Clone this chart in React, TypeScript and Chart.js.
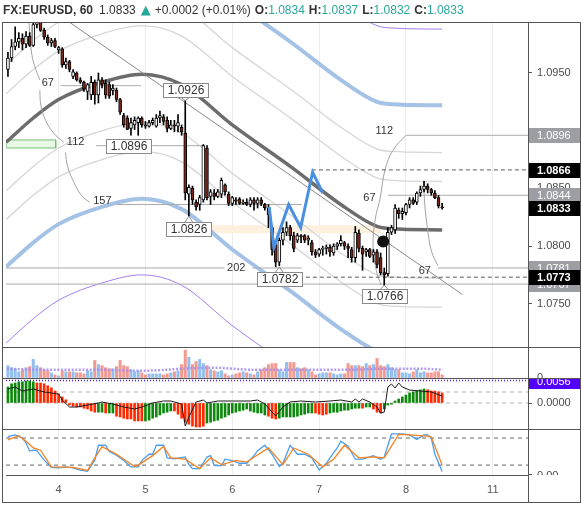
import React, { useEffect, useRef } from "react";
import { Chart, registerables } from "chart.js";

Chart.register(...registerables);

const FONT = '"Liberation Sans", Arial, sans-serif';

// ---------------- data ----------------
const dayTickBars = [14, 38, 62, 86, 110, 134];
const dayTickLabels = ["4", "5", "6", "7", "8", "11"];
const priceTicks = [1.075, 1.08, 1.085, 1.095];

const opens = [
  1.0953, 1.0963, 1.0973, 1.0977, 1.098, 1.0975, 1.0982, 1.0974, 1.0992, 1.0994,
  1.0987, 1.0981, 1.0976, 1.0978, 1.097, 1.0971, 1.0957, 1.096, 1.0947, 1.095,
  1.0944, 1.0942, 1.0934, 1.0931, 1.0942, 1.0931, 1.0944, 1.0941, 1.094, 1.0935,
  1.0935, 1.0927, 1.0913, 1.0911, 1.0902, 1.0905, 1.0907, 1.0911, 1.0905, 1.0904,
  1.0907, 1.0904, 1.0911, 1.0912, 1.0909, 1.0902, 1.0905, 1.0904, 1.0903, 1.0898,
  1.0845, 1.085, 1.0838, 1.0836, 1.084, 1.0885, 1.0843, 1.0846, 1.0843, 1.0845,
  1.0853, 1.0845, 1.0837, 1.084, 1.0841, 1.0837, 1.0838, 1.0836, 1.084, 1.0837,
  1.084, 1.0836, 1.0833, 1.0816, 1.0801, 1.0786, 1.0805, 1.0812, 1.0816, 1.0809,
  1.0805, 1.0809, 1.0809, 1.0805, 1.0803, 1.0795, 1.0793, 1.0797, 1.0798, 1.0799,
  1.0794, 1.08, 1.0802, 1.0803, 1.08, 1.0797, 1.079, 1.0811, 1.0798, 1.0795,
  1.0797, 1.0792, 1.0795, 1.079, 1.0777, 1.0776, 1.0812, 1.0814, 1.0831, 1.0828,
  1.0829, 1.0836, 1.084, 1.0838, 1.0846, 1.0849, 1.0852, 1.0849, 1.0846, 1.0842,
  1.0834,
];
const highs = [
  1.0968, 1.0979, 1.099, 1.0985, 1.0984, 1.0986, 1.0985, 1.0996, 1.0998, 1.0998,
  1.0989, 1.0983, 1.098, 1.098, 1.0973, 1.0972, 1.0963, 1.0961, 1.0953, 1.0951,
  1.0946, 1.0943, 1.0941, 1.0947, 1.0944, 1.095, 1.0946, 1.0944, 1.0942, 1.094,
  1.0937, 1.0928, 1.0915, 1.0913, 1.0911, 1.0912, 1.0912, 1.0912, 1.0908, 1.0909,
  1.0911, 1.0914, 1.0917, 1.0914, 1.0912, 1.0909, 1.0909, 1.0914, 1.0905, 1.0926,
  1.0853, 1.0852, 1.084, 1.0844, 1.0888, 1.0887, 1.0849, 1.0849, 1.0849, 1.0859,
  1.0854, 1.0847, 1.0843, 1.0842, 1.0842, 1.084, 1.0841, 1.0842, 1.0842, 1.0842,
  1.0842, 1.0837, 1.0836, 1.0817, 1.0805, 1.0807, 1.0816, 1.0821, 1.0818, 1.0812,
  1.0811, 1.081, 1.081, 1.0809, 1.0805, 1.0797, 1.0798, 1.08, 1.0801, 1.0801,
  1.0802, 1.0803, 1.0809, 1.0804, 1.0802, 1.0799, 1.0817, 1.0814, 1.08, 1.0798,
  1.0798, 1.0797, 1.0797, 1.0794, 1.0781, 1.0816, 1.0818, 1.0836, 1.0833, 1.0833,
  1.0837, 1.0842, 1.0842, 1.0847, 1.0852, 1.0856, 1.0854, 1.085, 1.0848, 1.0844,
  1.0837,
];
const lows = [
  1.0947, 1.096, 1.097, 1.0972, 1.097, 1.0972, 1.0973, 1.0973, 1.0989, 1.0986,
  1.0979, 1.0974, 1.0973, 1.0972, 1.0967, 1.0955, 1.0954, 1.0951, 1.0945, 1.0943,
  1.0941, 1.0934, 1.0927, 1.0927, 1.0923, 1.0924, 1.0937, 1.0928, 1.0928, 1.0931,
  1.0925, 1.0914, 1.0903, 1.0901, 1.0896, 1.0901, 1.0896, 1.0903, 1.0902, 1.0903,
  1.0905, 1.0903, 1.0907, 1.0905, 1.0899, 1.0901, 1.0899, 1.0899, 1.0896, 1.084,
  1.0826, 1.0836, 1.0831, 1.0831, 1.0838, 1.084, 1.0836, 1.084, 1.0842, 1.0842,
  1.0844, 1.0835, 1.0835, 1.0836, 1.0836, 1.0836, 1.0835, 1.0834, 1.0831, 1.0833,
  1.0835, 1.0831, 1.0816, 1.0792, 1.0782, 1.0783, 1.0801, 1.0809, 1.0805, 1.0795,
  1.0803, 1.0803, 1.0803, 1.0801, 1.0792, 1.079, 1.0791, 1.0792, 1.0793, 1.0791,
  1.0792, 1.0797, 1.08, 1.0797, 1.079, 1.0786, 1.0786, 1.0795, 1.0779, 1.0791,
  1.079, 1.0786, 1.0781, 1.0775, 1.0766, 1.0774, 1.081, 1.0811, 1.0824, 1.0823,
  1.0827, 1.0833, 1.0836, 1.0836, 1.0843, 1.0847, 1.0846, 1.0844, 1.0841, 1.0833,
  1.0832,
];
const closes = [
  1.0963, 1.0973, 1.0977, 1.098, 1.0975, 1.0982, 1.0974, 1.0992, 1.0994, 1.0987,
  1.0981, 1.0976, 1.0978, 1.0973, 1.0972, 1.0957, 1.096, 1.0953, 1.0951, 1.0944,
  1.0942, 1.0936, 1.094, 1.0942, 1.0931, 1.0944, 1.094, 1.0931, 1.093, 1.0937,
  1.0927, 1.0916, 1.0905, 1.0901, 1.0907, 1.0909, 1.0911, 1.0905, 1.0904, 1.0907,
  1.0909, 1.0911, 1.0913, 1.0908, 1.0902, 1.0905, 1.0904, 1.0907, 1.0899, 1.0846,
  1.0851, 1.084, 1.0834, 1.0842, 1.0887, 1.0842, 1.0847, 1.0843, 1.0847, 1.0857,
  1.0847, 1.0837, 1.0842, 1.0839, 1.0837, 1.0838, 1.0836, 1.084, 1.0837, 1.084,
  1.0837, 1.0833, 1.0827, 1.0797, 1.0786, 1.0805, 1.0812, 1.0816, 1.0809, 1.0798,
  1.0809, 1.0808, 1.0805, 1.0807, 1.0795, 1.0792, 1.0797, 1.0798, 1.0799, 1.0795,
  1.08, 1.0802, 1.0805, 1.08, 1.0798, 1.079, 1.0812, 1.0798, 1.0793, 1.0797,
  1.0791, 1.0795, 1.0784, 1.0777, 1.0775, 1.0812, 1.0816, 1.0833, 1.0828, 1.083,
  1.0836, 1.084, 1.0837, 1.0846, 1.0849, 1.0852, 1.0849, 1.0846, 1.0842, 1.0835,
  1.0833,
];
const volumes = [
  12, 10, 9, 6, 8, 10, 11, 18, 12, 10,
  8, 7, 5, 3, 2, 7, 6, 6, 6, 5,
  5, 4, 7, 6, 17, 13, 12, 10, 9, 9,
  11, 17, 12, 11, 8, 6, 7, 5, 3, 4,
  4, 4, 4, 3, 4, 5, 6, 7, 13, 27,
  20, 13, 16, 18, 14, 12, 8, 7, 6, 7,
  4, 2, 3, 4, 5, 6, 5, 4, 3, 6,
  8, 10, 13, 14, 14, 8, 6, 15, 15,
  15, 10, 9, 10, 8, 6, 3, 4, 5, 5,
  5, 4, 3, 4, 4, 14, 12, 12, 12, 11,
  14, 12, 13, 19, 12, 11, 13, 10, 8, 8,
  5, 5, 4, 6, 8, 5, 6, 5, 5, 6,
  6, 3,
];
const volMaBars = [-0.3, 9.9, 23.6, 37.3, 48.3, 56.5, 67.5, 81.2, 94.9, 103.1, 114.1, 120.1];
const volMaValues = [9, 8, 8, 7, 9, 10, 8, 8, 8, 9, 9, 8];

// multi-band overlay (moving average and its bands)
const bandBars = [-0.5, 7, 14, 26, 37, 48, 62, 78.5, 92, 102, 106, 120];
const maValues = [1.089, 1.0911, 1.0927, 1.0942, 1.0949, 1.094, 1.0905, 1.0868, 1.0836, 1.0817, 1.0815, 1.0814];
const grayUp1 = [1.0932, 1.0953, 1.0969, 1.0984, 1.0991, 1.0982, 1.0947, 1.091, 1.0878, 1.0859, 1.0857, 1.0856];
const grayDn1 = [1.0848, 1.0869, 1.0885, 1.09, 1.0907, 1.0898, 1.0863, 1.0826, 1.0794, 1.0775, 1.0773, 1.0772];
const grayUp2 = [1.0957, 1.0978, 1.0994, 1.1009, 1.1016, 1.1007, 1.0972, 1.0935, 1.0903, 1.0884, 1.0882, 1.0881];
const grayDn2 = [1.0823, 1.0844, 1.086, 1.0875, 1.0882, 1.0873, 1.0838, 1.0801, 1.0769, 1.075, 1.0748, 1.0747];
const blueUp = [1.0998, 1.1019, 1.1035, 1.105, 1.1057, 1.1048, 1.1013, 1.0976, 1.0944, 1.0925, 1.0923, 1.0922];
const blueDn = [1.0782, 1.0803, 1.0819, 1.0834, 1.0841, 1.0832, 1.0797, 1.076, 1.0728, 1.0709, 1.0707, 1.0706];
const purpleUp = [1.1064, 1.1085, 1.1101, 1.1116, 1.1123, 1.1114, 1.1079, 1.1042, 1.101, 1.0991, 1.0989, 1.0988];
const purpleDn = [1.0716, 1.0737, 1.0753, 1.0768, 1.0775, 1.0766, 1.0731, 1.0694, 1.0662, 1.0643, 1.0641, 1.064];

// drawings
const levelPrices = [1.0939, 1.0887, 1.0836, 1.0781, 1.0781, 1.0781, 1.0767, 1.0896, 1.0844, 1.0866, 1.0773];
const levelFrom = [14.5, 24.4, 30.2, -0.6, 67.5, 118.8, -0.6, 110, 105, 84, 80.4];
const levelTo = [36.8, 53.8, 81.2, 59.8, 81.2, 143.8, 143.8, 143.8, 143.8, 143.8, 143.8];
const levelDashed = [false, false, false, false, false, false, false, false, false, true, true];

const levelLabelTexts = ["67", "112", "157", "202", "112", "67", "67"];
const levelLabelBars = [11.0, 18.7, 26.1, 63.1, 104.0, 99.9, 115.2];
const levelLabelPrices = [1.0941, 1.089, 1.0839, 1.0781, 1.09, 1.0842, 1.0778];

const pivotTexts = ["1.0926", "1.0896", "1.0826", "1.0782", "1.0766"];
const pivotBars = [49, 33.2, 50, 75, 104];
const pivotPrices = [1.0926, 1.0887, 1.0826, 1.0782, 1.0766];

const axisLabelPrices = [1.0896, 1.0844, 1.0781, 1.0767, 1.0866, 1.0833, 1.0773];
const axisLabelDark = [false, false, false, false, true, true, true];

const arcBars = [
  [5.8, 6.6, 7.7, 8.8],
  [8.8, 9.1, 10.4, 12.6, 15.4],
  [15.9, 16.5, 18.1, 20.3, 22.5],
  [110.0, 106.4, 104.2, 102.9, 101.5, 100.9, 101.8, 103.1],
  [114.9, 115.2, 116.0, 117.1, 118.8],
];
const arcPrices = [
  [1.0994, 1.0966, 1.0953, 1.0944],
  [1.0935, 1.0922, 1.0909, 1.0898, 1.089],
  [1.0881, 1.0869, 1.0856, 1.0844, 1.0838],
  [1.0896, 1.0883, 1.0866, 1.0842, 1.0823, 1.0799, 1.0779, 1.0766],
  [1.0856, 1.0836, 1.0814, 1.0795, 1.0783],
];
const trendBars = [17.0, 125.6];
const trendPrices = [1.0994, 1.0758];
const zigBars = [72.2, 73.5, 77.6, 80.9, 84.2, 87.0];
const zigPrices = [1.0834, 1.0799, 1.0836, 1.0816, 1.0864, 1.0846];
const greenRectBars = [-0.5, 13.2];
const greenRectPrices = [1.0885, 1.0892];
const zoneBars = [50, 103.1];
const zonePrices = [1.0811, 1.0818];
const dotBars = [103.7];
const dotPrices = [1.0804];

// MACD pane
const macdHist = [
  0.004, 0.0048, 0.005, 0.0053, 0.0053, 0.0055, 0.0055, 0.0053,
  0.005, 0.005, 0.0048, 0.0043, 0.0038, 0.003, 0.0023, 0.0015, 0.0008,
  -0.0005, -0.0008, -0.001, -0.001, -0.0013, -0.0015, -0.002, -0.0023,
  -0.0023, -0.0023,
  -0.0025,
  -0.0025, -0.0025,
  -0.0033, -0.0035, -0.0038, -0.004, -0.004, -0.0045, -0.0045, -0.0045,
  -0.0045, -0.0043, -0.0038, -0.0035, -0.003, -0.0025, -0.0023, -0.002,
  -0.002, -0.0028, -0.0038, -0.0048, -0.0053, -0.0058, -0.006, -0.006, -0.0058,
  -0.005, -0.0048, -0.0045, -0.0043, -0.0038, -0.0035, -0.003, -0.0025, -0.0023, -0.002, -0.0018, -0.0015, -0.002, -0.0023, -0.0025, -0.0025, -0.003,
  -0.0033, -0.0038, -0.004, -0.0038, -0.0035, -0.0035, -0.0035,
  -0.0035, -0.0033, -0.003, -0.0028, -0.0025, -0.0025,
  -0.0025, -0.0028, -0.003, -0.0028,
  -0.0025, -0.0023, -0.0023, -0.002, -0.0018, -0.0018, -0.0015, -0.0013, -0.0013,
  -0.0013,
  -0.001, -0.001,
  -0.0015, -0.0023, -0.0025,
  -0.0015, -0.0005, -0.0003,
  0.0005, 0.001, 0.0015, 0.002, 0.0025, 0.0028, 0.003, 0.0033, 0.0035,
  0.0033, 0.003, 0.003, 0.0028, 0.0025,
];
const macdColorCodes = [
  "gggggggg", "rrrrrrrrrrrrrrrrr", "gg", "r", "gg", "rrrrrrrr", "gggggggg", "rrrrrrrrr",
  "ggggggggggggggggg", "rrr", "gggggggggg", "rrrr", "ggggggggg", "r", "gg", "rrr", "gggggggggggg", "rrrrr",
].join("");
const macdLineBars = [0, 2, 4, 7, 10, 14, 15, 17, 19, 22, 25, 26, 29, 32, 35, 37, 40, 43, 45, 48, 49, 50, 52, 54, 55, 58, 62, 67, 69, 71, 73, 74, 76, 78, 81, 85, 89, 92, 95, 96, 97, 98, 100, 102, 103, 104, 105, 106, 107, 108, 109, 111, 114, 117, 120];
const macdLineValues = [0.0035, 0.004, 0.003, 0.0035, 0.00275, 0.00225, 0.00075, -0.001, -0.001, -0.0005, 0, 0.00025, -0.00025, -0.001, -0.0015, -0.001, 0, 0.0005, 0.0005, -0.00025, -0.00575, -0.0035, 0.00025, 0.00075, 0, 0.0005, 0.0005, 0.0005, 0.00075, -0.00025, -0.00225, -0.00325, -0.001, 0.00025, 0.0005, 0.00025, 0.0005, 0.00075, 0.00025, 0.001, 0.00025, 0.001, 0.00025, -0.001, -0.0025, -0.00225, 0.004, 0.00475, 0.00375, 0.005, 0.004, 0.00325, 0.003, 0.00275, 0.00175];
const macdLevels = [0.00275, 0];
const macdTopValue = 0.0056;

// Stochastic pane
const kBars = [0, 2, 4, 5, 6, 7, 8, 10, 12, 14, 16, 18, 20, 22, 24, 25, 27, 28, 30, 32, 34, 36, 37, 39, 40, 41, 43, 44, 46, 49, 50, 51, 53, 55, 56, 57, 59, 60, 62, 64, 66, 68, 69, 71, 73, 75, 76, 78, 80, 82, 84, 86, 88, 89, 91, 92, 94, 96, 98, 100, 101, 103, 104, 106, 108, 109, 111, 113, 115, 116, 117, 118, 120];
const kValues = [83, 87, 80, 69, 51, 53, 52, 31, 15, 14, 16, 14, 9, 6, 31, 64, 64, 50, 42, 30, 16, 16, 30, 44, 44, 64, 64, 36, 34, 38, 21, 12, 12, 38, 41, 19, 19, 33, 30, 24, 24, 41, 52, 64, 44, 17, 24, 64, 44, 44, 36, 9, 24, 36, 58, 73, 62, 33, 33, 38, 41, 33, 38, 89, 89, 89, 87, 77, 87, 87, 80, 44, 6];
const dBars = [0, 3, 5, 7, 9, 12, 18, 22, 24, 26, 30, 35, 36, 40, 43, 45, 49, 53, 56, 59, 63, 66, 72, 76, 79, 83, 87, 90, 93, 97, 101, 104, 108, 111, 116, 117, 120];
const dValues = [76, 85, 73, 58, 53, 16, 15, 8, 36, 61, 44, 17, 20, 41, 61, 36, 33, 12, 36, 21, 30, 27, 58, 21, 58, 44, 16, 33, 64, 36, 38, 36, 88, 87, 84, 82, 20];
const stochLevels = [80, 20];

// ---------------- layout / style ----------------
const X_MIN = -0.54;
const X_MAX = 143.73;
const PIVOT_OFFSETS = [-11, 0, 13, 12, 11];

const pts = (xs: number[], ys: number[]) => xs.map((x, k) => ({ x, y: ys[k] }));
const hline = (v: number, axis: string, color: string, dash: number[], width: number, order: number) => ({
  type: "line",
  data: [{ x: X_MIN, y: v }, { x: X_MAX, y: v }],
  borderColor: color,
  borderDash: dash,
  borderWidth: width,
  pointRadius: 0,
  yAxisID: axis,
  order,
});
const curve = (xs: number[], ys: number[], color: string, width: number, order: number, extra: any = {}) => ({
  type: "line",
  data: pts(xs, ys),
  borderColor: color,
  borderWidth: width,
  pointRadius: 0,
  fill: false,
  yAxisID: "y",
  order,
  ...extra,
});

function buildConfig() {
  const idx = opens.map((_, i) => i);
  const up = (i: number) => closes[i] >= opens[i];
  const datasets: any[] = [];

  // zones
  datasets.push({
    type: "line",
    data: pts([zoneBars[0], zoneBars[1], zoneBars[1], zoneBars[0], zoneBars[0]], [zonePrices[1], zonePrices[1], zonePrices[0], zonePrices[0], zonePrices[1]]),
    borderWidth: 0, pointRadius: 0, fill: "shape", backgroundColor: "#fdf0de", borderColor: "rgba(0,0,0,0)", yAxisID: "y", order: 30,
  });
  datasets.push({
    type: "line",
    data: pts([greenRectBars[0], greenRectBars[1], greenRectBars[1], greenRectBars[0], greenRectBars[0]], [greenRectPrices[1], greenRectPrices[1], greenRectPrices[0], greenRectPrices[0], greenRectPrices[1]]),
    borderWidth: 1, pointRadius: 0, fill: "shape", backgroundColor: "#e8f7e6", borderColor: "#76c076", yAxisID: "y", order: 30,
  });

  // bands
  const smooth = { cubicInterpolationMode: "monotone" };
  datasets.push(curve(bandBars, grayUp1, "#d6d6d6", 1.3, 22, smooth));
  datasets.push(curve(bandBars, grayDn1, "#d6d6d6", 1.3, 22, smooth));
  datasets.push(curve(bandBars, grayUp2, "#d6d6d6", 1.3, 22, smooth));
  datasets.push(curve(bandBars, grayDn2, "#d6d6d6", 1.3, 22, smooth));
  datasets.push(curve(bandBars, blueUp, "#a3c2e6", 4, 21, smooth));
  datasets.push(curve(bandBars, blueDn, "#a3c2e6", 4, 21, smooth));
  datasets.push(curve(bandBars, purpleUp, "#a57df2", 1, 21, smooth));
  datasets.push(curve(bandBars, purpleDn, "#a57df2", 1, 21, smooth));
  datasets.push(curve(bandBars, maValues, "rgba(95,95,95,0.92)", 3.5, 15, smooth));

  // level lines
  levelPrices.forEach((p, k) => {
    datasets.push(curve([levelFrom[k], levelTo[k]], [p, p], levelDashed[k] ? "#5c5c5c" : "#ababab", 1, 12, levelDashed[k] ? { borderDash: [4, 3] } : {}));
  });
  // arcs & trend line
  arcBars.forEach((xs, k) => datasets.push(curve(xs, arcPrices[k], "#a2a2a2", 1, 12, { tension: 0.4 })));
  datasets.push(curve(trendBars, trendPrices, "#8a8a8a", 1, 12));

  // candles
  datasets.push({
    type: "bar",
    data: idx.map((i) => ({ x: i, y: [lows[i], highs[i]] })),
    backgroundColor: "#000",
    barThickness: 1,
    maxBarThickness: 1,
    grouped: false,
    yAxisID: "y",
    order: 6,
    clip: 0,
  });
  datasets.push({
    type: "bar",
    data: idx.map((i) => ({ x: i, y: [opens[i], closes[i]] })),
    backgroundColor: idx.map((i) => (up(i) ? "#ffffff" : "#7d2a1c")),
    borderColor: "#000",
    borderWidth: 1,
    borderSkipped: false,
    barThickness: 3,
    maxBarThickness: 3,
    minBarLength: 1,
    grouped: false,
    yAxisID: "y",
    order: 5,
    clip: 0,
  });
  datasets.push(curve(zigBars, zigPrices, "#4a90e2", 3, 4));
  datasets.push({
    type: "line", data: pts(dotBars, dotPrices), showLine: false, pointRadius: 6, pointBackgroundColor: "#111", pointBorderWidth: 0, yAxisID: "y", order: 3,
  });

  // volume
  datasets.push({
    type: "bar",
    data: idx.map((i) => ({ x: i, y: volumes[i] })),
    backgroundColor: idx.map((i) => (up(i) ? "#92bfee" : "#f29a92")),
    barThickness: 2.4,
    maxBarThickness: 2.4,
    grouped: false,
    yAxisID: "yv",
    order: 10,
    clip: 0,
  });
  datasets.push({
    type: "line", data: pts(volMaBars, volMaValues), borderColor: "rgba(165,140,240,0.85)", borderWidth: 2.5, borderDash: [2, 1.6], pointRadius: 0, yAxisID: "yv", order: 9, cubicInterpolationMode: "monotone",
  });

  // MACD
  macdLevels.forEach((v) => datasets.push(hline(v, "ym", "#b4b4b4", [4, 4], 1, 11)));
  datasets.push(hline(macdTopValue, "ym", "#4a1cff", [1, 2], 1.5, 11));
  datasets.push({
    type: "bar",
    data: idx.map((i) => ({ x: i, y: macdHist[i] })),
    backgroundColor: idx.map((i) => (macdColorCodes[i] === "g" ? "#0d880d" : "#ff2a00")),
    barThickness: 2,
    maxBarThickness: 2,
    grouped: false,
    yAxisID: "ym",
    order: 10,
    clip: 0,
  });
  datasets.push({
    type: "line", data: pts(macdLineBars, macdLineValues), borderColor: "#1a1a1a", borderWidth: 1, pointRadius: 0, yAxisID: "ym", order: 8,
  });

  // Stochastic
  stochLevels.forEach((v) => datasets.push(hline(v, "ys", "#666", [4, 4], 1, 11)));
  datasets.push({ type: "line", data: pts(kBars, kValues), borderColor: "#4a9ff0", borderWidth: 1.3, pointRadius: 0, yAxisID: "ys", order: 6 });
  datasets.push({ type: "line", data: pts(dBars, dValues), borderColor: "#f58220", borderWidth: 1.3, pointRadius: 0, yAxisID: "ys", order: 5 });

  const rightAxis = (extra: any) => ({
    type: "linear",
    position: "right",
    stack: "panes",
    beginAtZero: false,
    offset: false,
    border: { display: true, color: "#555" },
    grid: { drawOnChartArea: false, drawTicks: true, tickLength: 4, tickColor: "#555" },
    ticks: { color: "#4a4a4a", font: { family: FONT, size: 11 }, padding: 5, autoSkip: false },
    afterFit: (s: any) => { s.width = 52; },
    ...extra,
  });

  const overlay = {
    id: "overlay",
    afterDatasetsDraw(chart: any) {
      const { ctx, scales } = chart;
      const xs = scales.x, ys = scales.y;
      ctx.save();
      ctx.font = `11px ${FONT}`;
      ctx.fillStyle = "#333";
      ctx.textAlign = "center";
      ctx.textBaseline = "middle";
      levelLabelTexts.forEach((t, k) => {
        ctx.fillText(t, xs.getPixelForValue(levelLabelBars[k]), ys.getPixelForValue(levelLabelPrices[k]));
      });
      ctx.font = `12px ${FONT}`;
      pivotTexts.forEach((t, k) => {
        const px = xs.getPixelForValue(pivotBars[k]);
        const py = ys.getPixelForValue(pivotPrices[k]);
        const off = PIVOT_OFFSETS[k];
        const w = Math.round(ctx.measureText(t).width) + 8;
        const h = 14;
        const cy = py + off;
        const bx = Math.round(px - w / 2) + 0.5;
        const by = Math.round(cy - h / 2) + 0.5;
        ctx.strokeStyle = "#8a8a8a";
        ctx.lineWidth = 1;
        if (off !== 0) {
          const ey = off < 0 ? by + h : by;
          ctx.beginPath();
          ctx.moveTo(px - 4, ey);
          ctx.lineTo(px, py);
          ctx.lineTo(px + 4, ey);
          ctx.stroke();
        }
        ctx.fillStyle = "#fff";
        ctx.fillRect(bx, by, w, h);
        ctx.strokeRect(bx, by, w, h);
        ctx.fillStyle = "#333";
        ctx.fillText(t, bx + w / 2, by + h / 2 + 0.5);
      });
      ctx.restore();
    },
    afterDraw(chart: any) {
      const { ctx, scales, chartArea } = chart;
      const L = 2, R = 580;
      const axL = chartArea.right;
      ctx.save();
      ctx.strokeStyle = "#555";
      ctx.lineWidth = 1;
      ["y", "yv", "ym"].forEach((id) => {
        const yy = Math.round(scales[id].bottom) + 0.5;
        ctx.beginPath();
        ctx.moveTo(L, yy);
        ctx.lineTo(R, yy);
        ctx.stroke();
      });
      ctx.beginPath();
      ctx.moveTo(Math.round(axL) + 0.5, chartArea.bottom);
      ctx.lineTo(Math.round(axL) + 0.5, 502);
      ctx.stroke();
      ctx.strokeRect(2.5, 22.5, 578, 480);

      // price axis labels
      const ys = scales.y;
      const drawLabel = (p: number, dark: boolean) => {
        const py = Math.round(ys.getPixelForValue(p));
        ctx.fillStyle = dark ? "#000" : "#9d9ea3";
        ctx.fillRect(axL + 1, py - 7, R - axL - 1, 15);
        ctx.fillStyle = "#fff";
        ctx.font = `${dark ? "bold " : ""}11px ${FONT}`;
        ctx.textAlign = "left";
        ctx.textBaseline = "middle";
        ctx.fillText(p.toFixed(4), axL + 9, py + 1);
      };
      axisLabelPrices.forEach((p, k) => { if (!axisLabelDark[k]) drawLabel(p, false); });
      axisLabelPrices.forEach((p, k) => { if (axisLabelDark[k]) drawLabel(p, true); });

      // MACD top value label (clipped to pane)
      const ym = scales.ym;
      ctx.save();
      ctx.beginPath();
      ctx.rect(axL + 1, ym.top + 1, R - axL - 1, ym.bottom - ym.top - 1);
      ctx.clip();
      const my = Math.round(ym.getPixelForValue(macdTopValue));
      ctx.fillStyle = "#5100ff";
      ctx.fillRect(axL + 1, my - 7, R - axL - 1, 15);
      ctx.fillStyle = "#fff";
      ctx.font = `11px ${FONT}`;
      ctx.textAlign = "left";
      ctx.textBaseline = "middle";
      ctx.fillText(macdTopValue.toFixed(4), axL + 9, my + 1);
      ctx.restore();

      // stochastic zero label (clipped)
      const sc = scales.ys;
      ctx.save();
      ctx.beginPath();
      ctx.rect(axL, sc.top, R - axL, sc.bottom - sc.top);
      ctx.clip();
      const sy = Math.round(sc.getPixelForValue(0)) + 0.5;
      ctx.strokeStyle = "#555";
      ctx.beginPath();
      ctx.moveTo(axL, sy);
      ctx.lineTo(axL + 4, sy);
      ctx.stroke();
      ctx.fillStyle = "#4a4a4a";
      ctx.font = `11px ${FONT}`;
      ctx.textAlign = "left";
      ctx.textBaseline = "middle";
      ctx.fillText("0.00", axL + 9, sy + 1);
      ctx.restore();
      ctx.restore();
    },
  };

  return {
    type: "bar",
    data: { datasets },
    plugins: [overlay],
    options: {
      responsive: false,
      animation: false,
      devicePixelRatio: 1,
      events: [],
      layout: { padding: { left: 2, top: 22, right: 2, bottom: 3 } },
      plugins: { legend: { display: false }, tooltip: { enabled: false } },
      scales: {
        x: {
          type: "linear",
          min: X_MIN,
          max: X_MAX,
          offset: false,
          border: { display: true, color: "#555" },
          grid: { color: "#ececec", drawTicks: false, offset: false },
          ticks: {
            autoSkip: false,
            maxRotation: 0,
            padding: 8,
            color: "#555",
            font: { family: FONT, size: 11 },
            callback: (v: number) => dayTickLabels[dayTickBars.indexOf(v)] ?? "",
          },
          afterBuildTicks: (s: any) => { s.ticks = dayTickBars.map((v) => ({ value: v })); },
          afterFit: (s: any) => { s.height = 27; },
        },
        y: rightAxis({
          min: 1.07125,
          max: 1.09942,
          stackWeight: 325,
          afterBuildTicks: (s: any) => { s.ticks = priceTicks.map((v) => ({ value: v })); },
          ticks: { color: "#4a4a4a", font: { family: FONT, size: 11 }, padding: 5, autoSkip: false, callback: (v: number) => Number(v).toFixed(4) },
        }),
        yv: rightAxis({
          min: 0,
          max: 30,
          stackWeight: 31,
          afterBuildTicks: (s: any) => { s.ticks = [{ value: 0 }]; },
          ticks: { color: "#4a4a4a", font: { family: FONT, size: 11 }, padding: 5, callback: () => "0" },
        }),
        ym: rightAxis({
          min: -0.0065,
          max: 0.00625,
          stackWeight: 51,
          afterBuildTicks: (s: any) => { s.ticks = [{ value: 0 }]; },
          ticks: { color: "#4a4a4a", font: { family: FONT, size: 11 }, padding: 5, callback: () => "0.0000" },
        }),
        ys: rightAxis({
          min: -2,
          max: 100,
          stackWeight: 46,
          grid: { drawOnChartArea: false, drawTicks: false },
          afterBuildTicks: (s: any) => { s.ticks = []; },
          ticks: { display: false },
        }),
      },
    },
  };
}

const teal = { color: "#2aa89b" };

export default function App() {
  const ref = useRef<HTMLCanvasElement>(null);
  useEffect(() => {
    const chart = new Chart(ref.current as HTMLCanvasElement, buildConfig() as any);
    return () => chart.destroy();
  }, []);
  return (
    <div style={{ position: "fixed", left: 0, top: 0, width: 582, height: 505, background: "#fff", overflow: "hidden" }}>
      <canvas ref={ref} width={582} height={505} style={{ position: "absolute", left: 0, top: 0, width: 582, height: 505 }} />
      <div
        style={{
          position: "absolute",
          left: 3,
          top: 1,
          font: `12px ${FONT}`,
          lineHeight: "18px",
          color: "#333",
          whiteSpace: "nowrap",
        }}
      >
        <span style={{ fontWeight: "bold" }}>FX:EURUSD, 60</span>
        <span style={{ marginLeft: 6 }}>1.0833</span>
        <span style={{ marginLeft: 5, ...teal, fontSize: 13, fontFamily: '"DejaVu Sans", sans-serif' }}>▲</span>
        <span style={{ marginLeft: 4 }}>+0.0002 (+0.01%)</span>
        <span style={{ marginLeft: 4 }}><b>O:</b><span style={teal}>1.0834</span></span>
        <span style={{ marginLeft: 4 }}><b>H:</b><span style={teal}>1.0837</span></span>
        <span style={{ marginLeft: 4 }}><b>L:</b><span style={teal}>1.0832</span></span>
        <span style={{ marginLeft: 4 }}><b>C:</b><span style={teal}>1.0833</span></span>
      </div>
    </div>
  );
}
